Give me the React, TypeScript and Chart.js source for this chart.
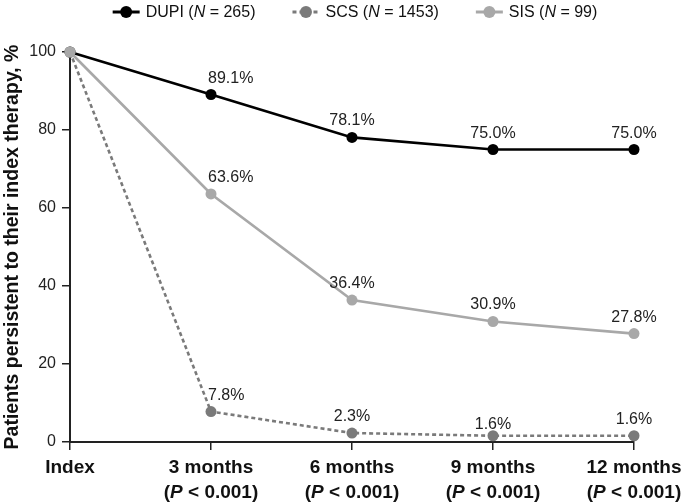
import React, { useEffect, useRef } from "react";
import { Chart, registerables } from "chart.js";

Chart.register(...registerables);

const FONT = "'Liberation Sans', Arial, Helvetica, sans-serif";

const categories = ["Index", "3 months", "6 months", "9 months", "12 months"];
const pValueLabels = ["", "< 0.001)", "< 0.001)", "< 0.001)", "< 0.001)"];

const seriesNames = ["DUPI", "SCS", "SIS"];
const seriesN = ["265", "1453", "99"];

const dupiValues = [100, 89.1, 78.1, 75.0, 75.0];
const scsValues = [100, 7.8, 2.3, 1.6, 1.6];
const sisValues = [100, 63.6, 36.4, 30.9, 27.8];

const yTicks = [0, 20, 40, 60, 80, 100];
const yTitle = "Patients persistent to their index therapy, %";

const colors = ["#000000", "#7a7a7a", "#a8a8a8"];
const dashes: number[][] = [[], [4, 3], []];

function drawSegments(ctx: CanvasRenderingContext2D, segs: { t: string; f: string }[], x: number, y: number) {
  let cx = x;
  for (const s of segs) {
    ctx.font = s.f;
    ctx.fillText(s.t, cx, y);
    cx += ctx.measureText(s.t).width;
  }
  return cx - x;
}
function measureSegments(ctx: CanvasRenderingContext2D, segs: { t: string; f: string }[]) {
  let w = 0;
  for (const s of segs) {
    ctx.font = s.f;
    w += ctx.measureText(s.t).width;
  }
  return w;
}

const customPlugin = {
  id: "custom",
  afterDatasetsDraw(chart: any) {
    const ctx: CanvasRenderingContext2D = chart.ctx;
    ctx.save();
    // data labels
    ctx.fillStyle = "#222";
    ctx.font = `16px ${FONT}`;
    ctx.textBaseline = "alphabetic";
    chart.data.datasets.forEach((ds: any, di: number) => {
      const meta = chart.getDatasetMeta(di);
      meta.data.forEach((pt: any, i: number) => {
        if (i === 0) return;
        const v = ds.data[i];
        const txt = v.toFixed(1) + "%";
        let x = pt.x;
        let y = pt.y - 12;
        if (i === 1) {
          ctx.textAlign = "left";
          x = pt.x - 3;
        } else {
          ctx.textAlign = "center";
        }
        if (di === 1 && i === 3) y = pt.y - 7;
        if (di === 1 && i === 4) y = pt.y - 12;
        ctx.fillText(txt, x, y);
      });
    });
    ctx.restore();
  },
  afterDraw(chart: any) {
    const ctx: CanvasRenderingContext2D = chart.ctx;
    const xs = chart.scales.x;
    ctx.save();
    ctx.fillStyle = "#111";
    ctx.textBaseline = "alphabetic";
    ctx.textAlign = "left";
    const bold = `bold 19px ${FONT}`;
    const boldIt = `italic bold 19px ${FONT}`;
    const base1 = chart.chartArea.bottom + 31;
    const base2 = base1 + 25;
    categories.forEach((c, i) => {
      const px = xs.getPixelForValue(i);
      const s1 = [{ t: c, f: bold }];
      const w1 = measureSegments(ctx, s1);
      drawSegments(ctx, s1, px - w1 / 2, base1);
      if (pValueLabels[i]) {
        const s2 = [
          { t: "(", f: bold },
          { t: "P", f: boldIt },
          { t: " " + pValueLabels[i], f: bold },
        ];
        const w2 = measureSegments(ctx, s2);
        drawSegments(ctx, s2, px - w2 / 2, base2);
      }
    });

    // legend
    const reg = `16px ${FONT}`;
    const ital = `italic 16px ${FONT}`;
    const markerW = 27;
    const gapMT = 6;
    const gapItems = 37;
    const items = seriesNames.map((n, i) => [
      { t: n + " (", f: reg },
      { t: "N", f: ital },
      { t: " = " + seriesN[i] + ")", f: reg },
    ]);
    let total = 0;
    items.forEach((segs, i) => {
      total += markerW + gapMT + measureSegments(ctx, segs);
      if (i < items.length - 1) total += gapItems;
    });
    const center = (chart.chartArea.left + chart.chartArea.right) / 2 + 3;
    let x = center - total / 2;
    const ly = 12;
    items.forEach((segs, i) => {
      ctx.strokeStyle = colors[i];
      ctx.fillStyle = colors[i];
      ctx.lineWidth = 3;
      ctx.setLineDash(dashes[i]);
      ctx.beginPath();
      ctx.moveTo(x, ly);
      ctx.lineTo(x + markerW, ly);
      ctx.stroke();
      ctx.setLineDash([]);
      ctx.beginPath();
      ctx.arc(x + markerW / 2, ly, 6, 0, Math.PI * 2);
      ctx.fill();
      x += markerW + gapMT;
      ctx.fillStyle = "#111";
      ctx.textBaseline = "middle";
      const w = drawSegments(ctx, segs, x, ly + 1);
      x += w + gapItems;
    });
    ctx.restore();
  },
};

export default function App() {
  const ref = useRef<HTMLCanvasElement | null>(null);
  useEffect(() => {
    document.body.style.margin = "0";
    const canvas = ref.current!;
    const mk = (label: string, data: number[], i: number, order: number) => ({
      label,
      data,
      borderColor: colors[i],
      backgroundColor: colors[i],
      pointBackgroundColor: colors[i],
      pointBorderWidth: 0,
      pointRadius: 5.5,
      borderWidth: 2.6,
      borderDash: dashes[i],
      tension: 0,
      clip: false as any,
      order,
    });
    const chart = new Chart(canvas, {
      type: "line",
      data: {
        labels: categories,
        datasets: [
          mk(seriesNames[0], dupiValues, 0, 3),
          mk(seriesNames[1], scsValues, 1, 2),
          mk(seriesNames[2], sisValues, 2, 1),
        ],
      },
      options: {
        responsive: false,
        animation: false,
        devicePixelRatio: 1,
        layout: { padding: { top: 52, right: 51, left: 0, bottom: 0 } },
        plugins: { legend: { display: false }, tooltip: { enabled: false } },
        scales: {
          x: {
            type: "category",
            offset: false,
            ticks: { display: false },
            grid: { drawOnChartArea: false, tickLength: 8, color: "#222", lineWidth: 1.5 },
            border: { color: "#222", width: 2 },
            afterFit: (s: any) => {
              s.height = 62;
            },
          },
          y: {
            min: 0,
            max: 100,
            afterBuildTicks: (s: any) => {
              s.ticks = yTicks.map((v) => ({ value: v }));
            },
            ticks: { font: { size: 16, family: FONT }, color: "#222", padding: 6 },
            grid: { drawOnChartArea: false, tickLength: 8, color: "#222", lineWidth: 1.5 },
            border: { color: "#222", width: 2 },
            title: {
              display: true,
              text: yTitle,
              font: { size: 19.5, weight: "bold", family: FONT },
              color: "#111",
              padding: { top: 1, bottom: 0 },
            },
            afterFit: (s: any) => {
              s.width = 70;
            },
          },
        },
      },
      plugins: [customPlugin],
    });
    return () => chart.destroy();
  }, []);
  return <canvas ref={ref} width={685} height={504} />;
}
